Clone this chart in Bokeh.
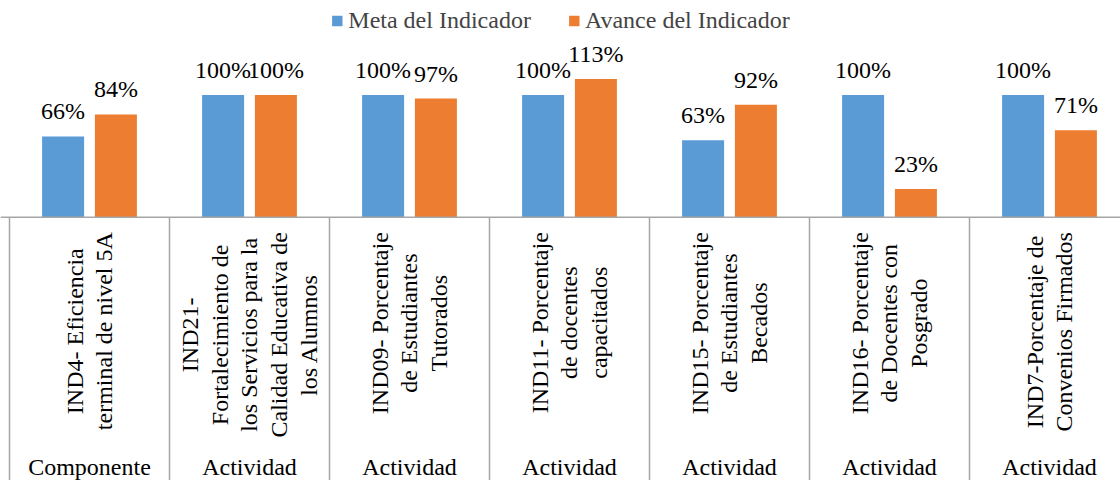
import numpy as np
from bokeh.plotting import figure
from bokeh.models import Range1d, Span, Legend, LegendItem, ColumnDataSource
from bokeh.core.properties import value
from bokeh.embed import file_html
from bokeh.resources import INLINE

# ---- data ----
categories = [
    "IND4- Eficiencia\nterminal de nivel 5A",
    "IND21-\nFortalecimiento de\nlos Servicios para la\nCalidad Educativa de\nlos Alumnos",
    "IND09- Porcentaje\nde Estudiantes\nTutorados",
    "IND11- Porcentaje\nde docentes\ncapacitados",
    "IND15- Porcentaje\nde Estudiantes\nBecados",
    "IND16- Porcentaje\nde Docentes con\nPosgrado",
    "IND7-Porcentaje de\nConvenios Firmados",
]
groups = ["Componente", "Actividad", "Actividad", "Actividad", "Actividad", "Actividad", "Actividad"]
meta = [66, 100, 100, 100, 63, 100, 100]
avance = [84, 100, 97, 113, 92, 23, 71]
series_names = ["Meta del Indicador", "Avance del Indicador"]

BLUE = "#5B9BD5"
ORANGE = "#ED7D31"
GRID = "#A6A6A6"
FONT = "'Liberation Serif', 'Times New Roman', serif"

n = len(categories)
idx = np.arange(n)
centers = idx + 0.5
off = 0.165
bw = 0.2625

W, H = 1120, 480
px_per_cat = 160.0
x0 = -9.0 / px_per_cat
px_per_unit = 1.223
base_y = 216.7  # baseline from figure top
y_top = base_y / px_per_unit
y_bot = -(H - base_y) / px_per_unit

p = figure(width=W, height=H, output_backend="svg", toolbar_location=None,
           x_range=Range1d(x0, x0 + W / px_per_cat), y_range=Range1d(y_bot, y_top),
           min_border=0, min_border_left=0, min_border_right=0,
           min_border_top=0, min_border_bottom=0)
p.axis.visible = False
p.grid.visible = False
p.outline_line_color = None
p.background_fill_color = "white"
p.border_fill_color = "white"

src = ColumnDataSource(dict(
    xm=centers - off, xa=centers + off, xc=centers,
    meta=meta, avance=avance,
    meta_lbl=[f"{v}%" for v in meta], av_lbl=[f"{v}%" for v in avance],
    cat=categories, grp=groups,
))

r1 = p.vbar(x="xm", top="meta", width=bw, bottom=0, source=src, fill_color=BLUE, line_color=None)
r2 = p.vbar(x="xa", top="avance", width=bw, bottom=0, source=src, fill_color=ORANGE, line_color=None)

# baseline
p.add_layout(Span(location=0, dimension="width", line_color=GRID, line_width=1.5))
# category separators
bounds = np.arange(n + 1).astype(float)
p.segment(x0=bounds, y0=[0] * (n + 1), x1=bounds, y1=[y_bot - 10] * (n + 1),
          line_color=GRID, line_width=1.5)

# data labels
for col, xcol, ycol in (("meta_lbl", "xm", "meta"), ("av_lbl", "xa", "avance")):
    p.text(x=xcol, y=ycol, text=col, source=src, y_offset=-25,
           text_align="center", text_baseline="middle",
           text_font=value(FONT), text_font_size="24px", text_color="#000000")

# rotated category labels
p.text(x="xc", y=0, text="cat", source=src, angle=np.pi / 2, y_offset=15,
       anchor="center_right", text_align="center", text_baseline="middle",
       text_line_height=1.15,
       text_font=value(FONT), text_font_size="24px", text_color="#000000")

# group labels
p.text(x="xc", y=0, text="grp", source=src, y_offset=250,
       text_align="center", text_baseline="middle",
       text_font=value(FONT), text_font_size="24px", text_color="#000000")

legend = Legend(items=[LegendItem(label=series_names[0], renderers=[r1]),
                       LegendItem(label=series_names[1], renderers=[r2])],
                orientation="horizontal", location="top_center",
                border_line_color=None, background_fill_alpha=0,
                label_text_font=FONT, label_text_font_size="24px",
                glyph_width=13, glyph_height=13, label_standoff=5,
                spacing=36, padding=0, margin=7, label_height=13)
p.add_layout(legend, "center")

open("out.html", "w").write(file_html(p, INLINE))
